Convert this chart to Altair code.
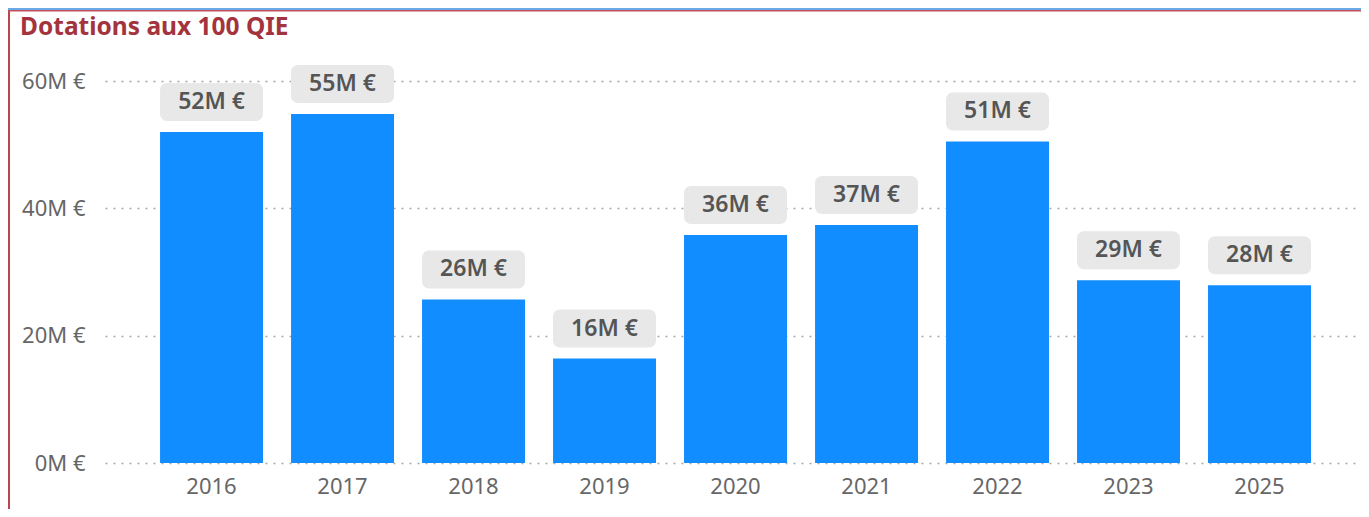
import altair as alt
import pandas as pd

years = ["2016", "2017", "2018", "2019", "2020", "2021", "2022", "2023", "2025"]
values_m = [52.0, 54.8, 25.7, 16.4, 35.8, 37.4, 50.5, 28.7, 27.9]
labels = ["52M €", "55M €", "26M €", "16M €", "36M €", "37M €", "51M €", "29M €", "28M €"]
y_ticks = [0, 20, 40, 60]
title_text = "Dotations aux 100 QIE"

df = pd.DataFrame({"year": years, "value": values_m, "label": labels})
title_df = pd.DataFrame({"t": [title_text]})

W, H = 1256, 382
PL, PT, PR, PB = 97, 73, 0, 46
FONT = "Noto Sans"

x_enc = alt.X(
    "year:N",
    sort=years,
    scale=alt.Scale(paddingInner=0.214, paddingOuter=0.401, align=0.524),
    axis=alt.Axis(
        title=None, labelAngle=0, ticks=False, domain=False, grid=False,
        labelFontSize=22, labelColor="#666666", labelPadding=13, labelFont=FONT,
    ),
)
y_enc = alt.Y(
    "value:Q",
    scale=alt.Scale(domain=[0, 60], nice=False),
    axis=alt.Axis(
        title=None, values=y_ticks, labelExpr="datum.value + 'M €'",
        ticks=False, domain=False, grid=True, gridColor="#a8a8a8",
        gridDash=[2, 6], gridWidth=1.5, labelFontSize=22,
        labelColor="#666666", labelPadding=20, labelFont=FONT,
    ),
)

base = alt.Chart(df)

bars = base.mark_bar(color="#118DFF").encode(x=x_enc, y=y_enc)

boxes = base.mark_rect(
    color="#e8e8e8", cornerRadius=7, yOffset=-11, y2Offset=-49
).encode(x=alt.X("year:N", sort=years), y="value:Q", y2="value:Q")

texts = base.mark_text(
    font=FONT, fontSize=23, fontWeight=600, color="#555555",
    baseline="middle", align="center", yOffset=-30,
).encode(x=alt.X("year:N", sort=years), y="value:Q", text="label:N")

title = alt.Chart(title_df).mark_text(
    font=FONT, fontSize=24.5, fontWeight="bold", color="#a3343e",
    align="left", baseline="alphabetic",
).encode(x=alt.value(12 - PL), y=alt.value(34.5 - 8 - PT), text="t:N")

border_left = alt.Chart(title_df).mark_rule(color="#b8454f", strokeWidth=2).encode(
    x=alt.value(1 - PL), y=alt.value(-PT), y2=alt.value(H + PB)
)
border_top_blue = alt.Chart(title_df).mark_rule(color="#6aa8e8", strokeWidth=2).encode(
    y=alt.value(1 - PT), x=alt.value(-PL), x2=alt.value(W + PR)
)
border_top_red = alt.Chart(title_df).mark_rule(color="#c0505a", strokeWidth=1.5).encode(
    y=alt.value(2.8 - PT), x=alt.value(-PL), x2=alt.value(W + PR)
)

chart = alt.layer(
    bars, boxes, texts, title, border_left, border_top_blue, border_top_red
).resolve_scale(x="shared", y="shared").properties(
    width=W, height=H,
    background="white",
    autosize=alt.AutoSizeParams(type="none"),
    padding={"left": PL, "top": PT, "right": PR, "bottom": PB},
).configure_view(stroke="transparent", strokeWidth=0).configure_axis(
    domain=False
)

chart.save("out.html", embed_options={"renderer": "svg", "actions": False})
